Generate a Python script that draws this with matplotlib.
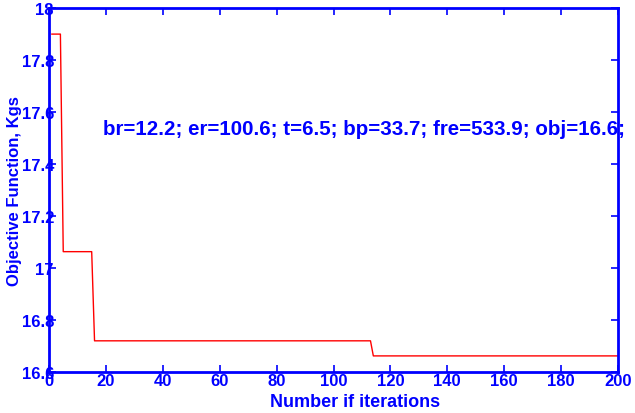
import numpy as np
import matplotlib.pyplot as plt

# breakpoints of the best-so-far objective (iteration, value)
iters = [1, 4, 5, 15, 16, 113, 114, 200]
obj = [17.9, 17.9, 17.063, 17.063, 16.72, 16.72, 16.662, 16.662]

xticks = [0, 20, 40, 60, 80, 100, 120, 140, 160, 180, 200]
yticks = [16.6, 16.8, 17.0, 17.2, 17.4, 17.6, 17.8, 18.0]
ytick_labels = ["16.6", "16.8", "17", "17.2", "17.4", "17.6", "17.8", "18"]
note = "br=12.2; er=100.6; t=6.5; bp=33.7; fre=533.9; obj=16.6;"

plt.rcParams["font.family"] = ["Liberation Sans", "DejaVu Sans"]
blue = "#0000ff"

fig = plt.figure(figsize=(6.35, 4.14), dpi=100)
ax = fig.add_axes([0.0772, 0.099, 0.896, 0.879])
ax.plot(iters, obj, color="red", linewidth=1.0)

ax.set_xlim(0, 200)
ax.set_ylim(16.6, 18)
ax.set_xticks(xticks)
ax.set_yticks(yticks)
ax.set_yticklabels(ytick_labels)
for s in ax.spines.values():
    s.set_color(blue)
    s.set_linewidth(2.0)
ax.tick_params(colors=blue, direction="in", length=5, width=1.2,
               top=True, right=True, labelsize=12)
ax.tick_params(axis="x", pad=1)
ax.tick_params(axis="y", pad=-3.5)
for lbl in ax.get_xticklabels() + ax.get_yticklabels():
    lbl.set_fontweight("bold")

ax.set_xlabel("Number if iterations", color=blue, fontsize=13,
              fontweight="bold")
ax.set_ylabel("Objective Function, Kgs", color=blue, fontsize=12,
              fontweight="bold")
ax.xaxis.set_label_coords(0.538, -0.058)
ax.yaxis.set_label_coords(-0.047, 0.5)

ax.text(18.9, 17.535, note, color=blue, fontsize=14.8, fontweight="bold",
        va="center", ha="left", clip_on=False)

fig.savefig("out.png", dpi=100)
